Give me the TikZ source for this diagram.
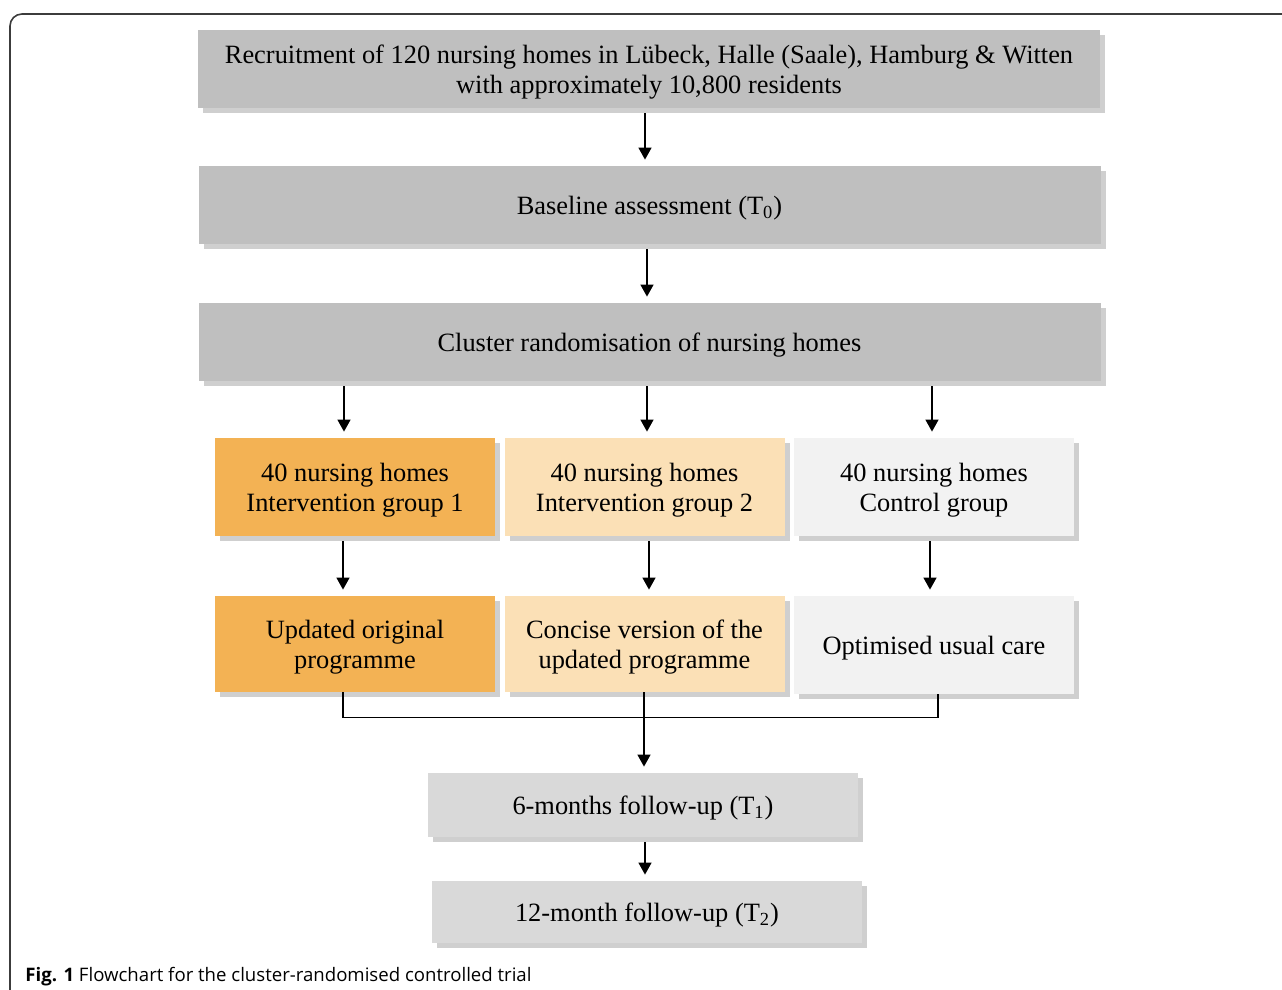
\documentclass[tikz,border=0pt]{standalone}
\usepackage{fontspec}
\setmainfont{Liberation Serif}
\newfontfamily\capfont{Open Sans}
\usetikzlibrary{arrows.meta,shadows}
\definecolor{topgray}{RGB}{191,191,191}
\definecolor{followgray}{RGB}{217,217,217}
\definecolor{ivone}{RGB}{243,178,84}
\definecolor{ivtwo}{RGB}{251,224,182}
\definecolor{ctrl}{RGB}{242,242,242}
\definecolor{shade}{RGB}{207,207,207}
\definecolor{framegray}{RGB}{60,60,60}
\tikzset{
  box/.style={rectangle, align=center, inner sep=0pt, text depth=0pt, font=\fontsize{13.2}{15}\selectfont,
    drop shadow={shadow xshift=2.5pt, shadow yshift=-2.5pt, fill=shade, opacity=1}},
  widebox/.style={box, fill=topgray, minimum width=451pt, minimum height=39pt},
  groupbox/.style={box, minimum width=140pt, minimum height=49pt},
  progbox/.style={box, minimum width=140pt, minimum height=48pt},
  followbox/.style={box, fill=followgray, minimum width=215pt, minimum height=32pt},
  arr/.style={->, line width=0.75pt, shorten <=2.5pt, shorten >=3pt},
}
\begin{document}
\begin{tikzpicture}[x=0.5pt,y=-0.5pt,>={Triangle[length=6pt,width=6.5pt]}]
\path[use as bounding box] (0,0) rectangle (1282,990);
\begin{scope}
  \clip (0,0) rectangle (1282,990);
  \draw[framegray, line width=0.8pt, rounded corners=6pt] (10,14) rectangle (1320,1030);
\end{scope}

% top of the trial
\node[widebox] (recruit) at (649,69) {Recruitment of 120 nursing homes in Lübeck, Halle (Saale), Hamburg \& Witten\\with approximately 10,800 residents};
\node[widebox] (base) at (649.5,205) {Baseline assessment (T\textsubscript{0})};
\node[widebox] (random) at (649.5,342) {Cluster randomisation of nursing homes};

% three arms
\node[groupbox, fill=ivone] (grpa) at (355,487) {40 nursing homes\\Intervention group 1};
\node[groupbox, fill=ivtwo] (grpb) at (644.5,487) {40 nursing homes\\Intervention group 2};
\node[groupbox, fill=ctrl] (grpc) at (934,487) {40 nursing homes\\Control group};
\node[progbox, fill=ivone] (proga) at (355,644) {Updated original\\programme};
\node[progbox, fill=ivtwo] (progb) at (644.5,644) {Concise version of the\\updated programme};
\node[progbox, fill=ctrl, minimum height=49pt] (progc) at (934,645) {Optimised usual care};

% follow-up
\node[followbox] (tone) at (643,805) {6-months follow-up (T\textsubscript{1})};
\node[followbox, minimum height=31pt] (ttwo) at (647,912) {12-month follow-up (T\textsubscript{2})};

\node[anchor=base west, font=\capfont\fontsize{9.3}{11}\selectfont, inner sep=0pt] (caption) at (25,981)
  {\textbf{Fig. 1} Flowchart for the cluster-randomised controlled trial};

% connectors
\draw[arr] (recruit.south -| 645,0) -- (base.north -| 645,0);
\draw[arr] (base.south -| 647,0) -- (random.north -| 647,0);
\foreach \g/\s in {a/-11, b/2.5, c/-2}{
  \path (grp\g.north) ++(\s,0) coordinate (top\g);
  \draw[arr] (top\g |- random.south) -- (top\g);
};
\foreach \g/\s in {a/-12, b/4.5, c/-4}{
  \path (prog\g.north) ++(\s,0) coordinate (mid\g);
  \draw[arr] (mid\g |- grpa.south) -- (mid\g);
};
\path (proga.south) ++(-12,0) coordinate (joina);
\path (progb.south) ++(-0.5,0) coordinate (joinb);
\path (progc.south) ++(4,0) coordinate (joinc);
\draw[line width=0.75pt] (joina) -- ++(0,25) -| (joinc);
\draw[arr, shorten <=0pt] (joinb) -- (joinb |- tone.north);
\draw[arr] (tone.south -| 645,0) -- (ttwo.north -| 645,0);
\end{tikzpicture}
\end{document}
